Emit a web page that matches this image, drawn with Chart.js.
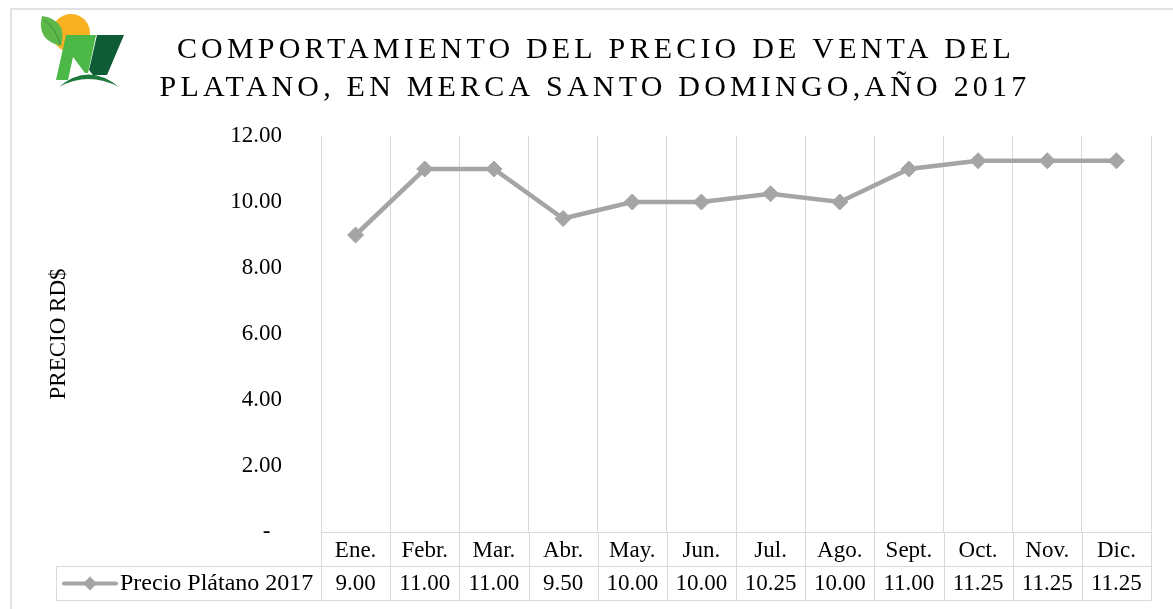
<!DOCTYPE html>
<html>
<head>
<meta charset="utf-8">
<script src="https://cdn.jsdelivr.net/npm/chart.js@4/dist/chart.umd.min.js"></script>
<style>
  html, body { margin: 0; padding: 0; background: #ffffff; }
  #conteneur { width: 1173px; height: 609px; position: relative; }
</style>
</head>
<body>
<div id="conteneur"><canvas id="graphiquePrix"></canvas></div>
<script>
// Données du graphique
const mois = ['Ene.', 'Febr.', 'Mar.', 'Abr.', 'May.', 'Jun.', 'Jul.', 'Ago.', 'Sept.', 'Oct.', 'Nov.', 'Dic.'];
const prixPlatano = [9.00, 11.00, 11.00, 9.50, 10.00, 10.00, 10.25, 10.00, 11.00, 11.25, 11.25, 11.25];
const nomSerie = 'Precio Plátano 2017';
const titreLignes = ['COMPORTAMIENTO DEL PRECIO DE VENTA DEL', 'PLATANO, EN MERCA SANTO DOMINGO,AÑO 2017'];
const titreAxeY = 'PRECIO RD$';
const yMin = 0;
const yMax = 12;
const yPas = 2;

let policeSerif = '"Liberation Serif", "Times New Roman", serif';
let couleurLigne = '#A5A5A5';
let couleurGrille = '#D9D9D9';

// Logo dessiné à la main en haut à gauche
const pluginLogo = {
    id: 'logo',
    beforeDraw(chart) {
        let ctx = chart.ctx;
        ctx.save();
        // cadre extérieur
        ctx.strokeStyle = couleurGrille;
        ctx.lineWidth = 1.5;
        ctx.strokeRect(11, 9, 1300, 800);
        // soleil
        ctx.fillStyle = '#F9B121';
        ctx.beginPath();
        ctx.arc(71, 33, 19, 0, Math.PI * 2);
        ctx.fill();
        // feuille
        ctx.fillStyle = '#5DB84A';
        ctx.beginPath();
        ctx.moveTo(42, 16);
        ctx.quadraticCurveTo(68, 20, 61, 46);
        ctx.quadraticCurveTo(36, 40, 42, 16);
        ctx.fill();
        ctx.strokeStyle = '#3E8E3A';
        ctx.lineWidth = 1;
        ctx.beginPath();
        ctx.moveTo(44, 20);
        ctx.quadraticCurveTo(56, 28, 60, 44);
        ctx.stroke();
        // M vert clair
        ctx.fillStyle = '#4CB848';
        ctx.beginPath();
        ctx.moveTo(66, 35);
        ctx.lineTo(96, 35);
        ctx.lineTo(88, 73);
        ctx.lineTo(85, 73);
        ctx.lineTo(73, 57);
        ctx.lineTo(68, 80);
        ctx.lineTo(56, 80);
        ctx.closePath();
        ctx.fill();
        // M vert foncé
        ctx.fillStyle = '#0D5C36';
        ctx.beginPath();
        ctx.moveTo(97, 35);
        ctx.lineTo(124, 35);
        ctx.lineTo(107, 75);
        ctx.lineTo(93, 75);
        ctx.lineTo(89, 70);
        ctx.closePath();
        ctx.fill();
        // arc du bas
        ctx.fillStyle = '#1E7A3C';
        ctx.beginPath();
        ctx.moveTo(59, 87);
        ctx.quadraticCurveTo(88, 62, 119, 87);
        ctx.quadraticCurveTo(88, 71, 59, 87);
        ctx.fill();
        ctx.restore();
    }
};

// Titre sur deux lignes avec espacement des lettres
const pluginTitre = {
    id: 'titreEspace',
    afterDraw(chart) {
        let ctx = chart.ctx;
        ctx.save();
        ctx.font = '30px ' + policeSerif;
        ctx.fillStyle = '#000000';
        ctx.textAlign = 'center';
        ctx.textBaseline = 'alphabetic';
        if ('letterSpacing' in ctx) {
            ctx.letterSpacing = '4.2px';
        }
        ctx.fillText(titreLignes[0], 596, 58);
        ctx.fillText(titreLignes[1], 595, 96);
        ctx.restore();
    }
};

// Table de données sous l'axe des X (style Excel)
const pluginTable = {
    id: 'tableDonnees',
    afterDraw(chart) {
        let ctx = chart.ctx;
        let xScale = chart.scales.x;
        let zone = chart.chartArea;
        let haut = Math.round(zone.bottom) + 0.5;
        let milieu = haut + 34;
        let bas = haut + 68;
        let debutLegende = 56.5;

        ctx.save();
        ctx.strokeStyle = couleurGrille;
        ctx.lineWidth = 1;

        // lignes horizontales
        ctx.beginPath();
        ctx.moveTo(zone.left, haut);
        ctx.lineTo(zone.right, haut);
        ctx.moveTo(debutLegende, milieu);
        ctx.lineTo(zone.right, milieu);
        ctx.moveTo(debutLegende, bas);
        ctx.lineTo(zone.right, bas);
        // lignes verticales aux frontières des catégories
        for (let i = 0; i <= mois.length; i++) {
            let x;
            if (i === 0) {
                x = zone.left;
            } else if (i === mois.length) {
                x = zone.right;
            } else {
                x = (xScale.getPixelForValue(i - 1) + xScale.getPixelForValue(i)) / 2;
            }
            x = Math.round(x) + 0.5;
            ctx.moveTo(x, haut);
            ctx.lineTo(x, bas);
        }
        ctx.moveTo(debutLegende, milieu);
        ctx.lineTo(debutLegende, bas);
        ctx.stroke();

        // textes des mois et des valeurs
        ctx.fillStyle = '#000000';
        ctx.font = '23px ' + policeSerif;
        ctx.textAlign = 'center';
        ctx.textBaseline = 'middle';
        mois.forEach(function(m, i) {
            let x = xScale.getPixelForValue(i);
            ctx.fillText(m, x, haut + 18);
            ctx.fillText(prixPlatano[i].toFixed(2), x, milieu + 17);
        });

        // clé de légende
        let yCle = milieu + 17;
        ctx.strokeStyle = couleurLigne;
        ctx.lineWidth = 4;
        ctx.lineCap = 'round';
        ctx.beginPath();
        ctx.moveTo(64, yCle);
        ctx.lineTo(116, yCle);
        ctx.stroke();
        ctx.fillStyle = couleurLigne;
        ctx.beginPath();
        ctx.moveTo(90, yCle - 7);
        ctx.lineTo(97, yCle);
        ctx.lineTo(90, yCle + 7);
        ctx.lineTo(83, yCle);
        ctx.closePath();
        ctx.fill();
        ctx.fillStyle = '#000000';
        ctx.textAlign = 'left';
        ctx.font = '24px ' + policeSerif;
        ctx.fillText(nomSerie, 120, yCle);
        ctx.restore();
    }
};

let ctx1 = document.getElementById('graphiquePrix').getContext('2d');

let monGraphique = new Chart(ctx1, {
    type: 'line',
    data: {
        labels: mois,
        datasets: [{
            label: nomSerie,
            data: prixPlatano,
            borderColor: couleurLigne,
            backgroundColor: couleurLigne,
            borderWidth: 4.5,
            pointStyle: 'rectRot',
            pointRadius: 8,
            pointBackgroundColor: couleurLigne,
            pointBorderColor: couleurLigne,
            pointBorderWidth: 1,
            tension: 0,
            clip: false
        }]
    },
    options: {
        responsive: true,
        maintainAspectRatio: false,
        animation: false,
        layout: {
            padding: { top: 136, right: 22, bottom: 9, left: 0 }
        },
        plugins: {
            legend: { display: false },
            title: { display: false },
            tooltip: { enabled: false }
        },
        scales: {
            x: {
                type: 'category',
                offset: true,
                grid: { color: couleurGrille, offset: true, drawTicks: false, lineWidth: 1 },
                border: { display: false },
                ticks: { display: false },
                afterFit: function(scale) { scale.height = 68; }
            },
            y: {
                min: yMin,
                max: yMax,
                grid: { display: false, drawTicks: false },
                border: { display: false },
                ticks: {
                    stepSize: yPas,
                    padding: 39,
                    color: '#000000',
                    font: { family: policeSerif, size: 23 },
                    callback: function(valeur) {
                        return valeur === 0 ? '-  ' : valeur.toFixed(2);
                    }
                },
                title: {
                    display: true,
                    text: titreAxeY,
                    color: '#000000',
                    font: { family: policeSerif, size: 23 },
                    padding: { top: 45, bottom: 0 }
                },
                afterFit: function(scale) { scale.width = 321; }
            }
        }
    },
    plugins: [pluginLogo, pluginTitre, pluginTable]
});
console.log(monGraphique.chartArea);
</script>
</body>
</html>
